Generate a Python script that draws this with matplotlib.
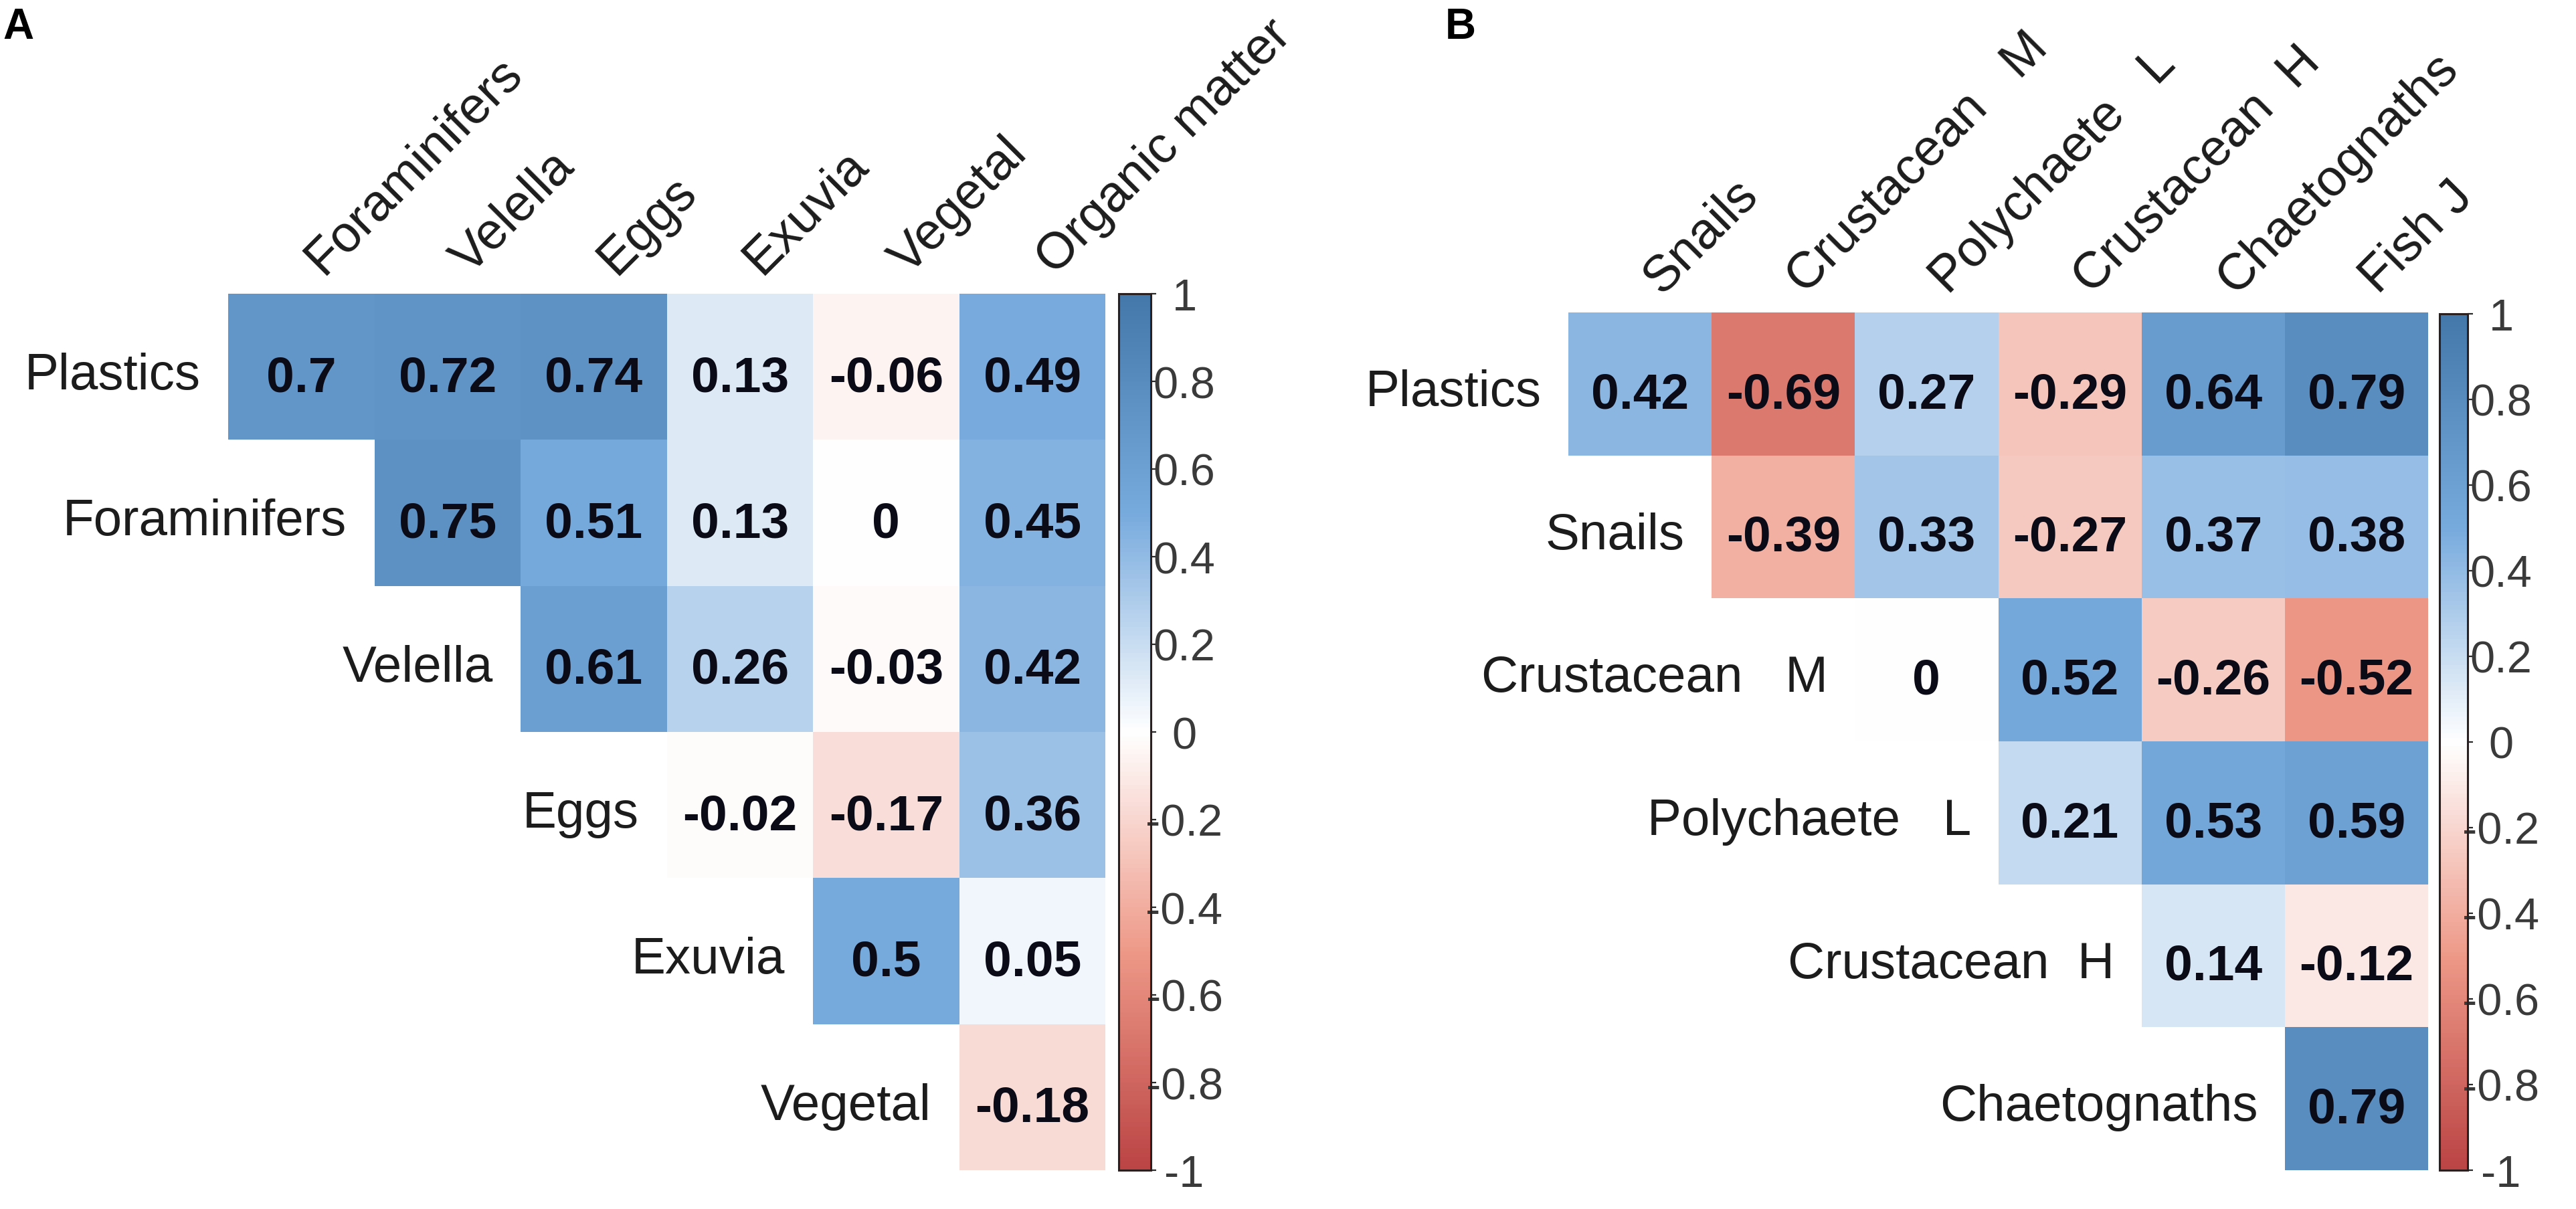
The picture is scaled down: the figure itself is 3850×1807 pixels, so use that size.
"""
Two upper-triangle correlation maps (corrplot style): A = particle types, B = plankton groups.
"""

import numpy as np
import matplotlib
matplotlib.use("Agg")
import matplotlib.pyplot as plt
from matplotlib.colors import LinearSegmentedColormap, Normalize
from matplotlib.cm import ScalarMappable

# --- data -------------------------------------------------------------------
A_ROWS = ["Plastics", "Foraminifers", "Velella", "Eggs", "Exuvia", "Vegetal"]
A_COLS = ["Foraminifers", "Velella", "Eggs", "Exuvia", "Vegetal", "Organic matter"]
A_VALUES = [
    [0.7, 0.72, 0.74, 0.13, -0.06, 0.49],
    [None, 0.75, 0.51, 0.13, 0, 0.45],
    [None, None, 0.61, 0.26, -0.03, 0.42],
    [None, None, None, -0.02, -0.17, 0.36],
    [None, None, None, None, 0.5, 0.05],
    [None, None, None, None, None, -0.18],
]

B_ROWS = ["Plastics", "Snails", "Crustacean   M", "Polychaete   L", "Crustacean  H", "Chaetognaths"]
B_COLS = ["Snails", "Crustacean   M", "Polychaete   L", "Crustacean  H", "Chaetognaths", "Fish J"]
B_VALUES = [
    [0.42, -0.69, 0.27, -0.29, 0.64, 0.79],
    [None, -0.39, 0.33, -0.27, 0.37, 0.38],
    [None, None, 0, 0.52, -0.26, -0.52],
    [None, None, None, 0.21, 0.53, 0.59],
    [None, None, None, None, 0.14, -0.12],
    [None, None, None, None, None, 0.79],
]

CBAR_TICKS = [-1, -0.8, -0.6, -0.4, -0.2, 0, 0.2, 0.4, 0.6, 0.8, 1]
CBAR_LABELS = ["-1", "-0.8", "-0.6", "-0.4", "-0.2", "0", "0.2", "0.4", "0.6", "0.8", "1"]

PALETTE = ["#BB4444", "#EE9988", "#FFFFFF", "#77AADD", "#4477AA"]

# --- layout (pixels of the 3850 x 1808 canvas) ---------------------------------
W, H = 3850, 1808
FONT = ["Liberation Sans", "DejaVu Sans"]


def px_rect(left, top, width, height):
    return [left / W, 1 - (top + height) / H, width / W, height / H]


def fmt(v):
    s = f"{v:.2f}".rstrip("0").rstrip(".")
    return "0" if s in ("-0", "") else s


def draw_corr(fig, rect, cbar_rect, rows, cols, values, cmap, norm):
    ax = fig.add_axes(px_rect(*rect))
    mat = np.array([[np.nan if v is None else v for v in r] for r in values], dtype=float)
    ax.pcolormesh(np.arange(len(cols) + 1), np.arange(len(rows) + 1),
                  np.ma.masked_invalid(mat), cmap=cmap, norm=norm)
    ax.set_xlim(0, len(cols))
    ax.set_ylim(len(rows), 0)
    ax.axis("off")

    for i, row in enumerate(values):
        for j, v in enumerate(row):
            if v is None:
                continue
            ax.text(j + 0.5, i + 0.5 + 0.165, fmt(v), ha="center", va="baseline",
                    fontsize=54, fontweight="bold", color="#0b0b18", family=FONT)

    for i, name in enumerate(rows):
        ax.text(i - 0.19, i + 0.5 + 0.15, name, ha="right", va="baseline",
                fontsize=55, color="#1c1c1c", family=FONT, clip_on=False)

    for j, name in enumerate(cols):
        ax.text(j + 0.5 + 0.15, -0.125, name, ha="left", va="baseline",
                rotation=45, rotation_mode="anchor",
                fontsize=55, color="#1c1c1c", family=FONT, clip_on=False)

    cax = fig.add_axes(px_rect(*cbar_rect))
    sm = ScalarMappable(norm=norm, cmap=cmap)
    cb = fig.colorbar(sm, cax=cax, ticks=CBAR_TICKS)
    cb.set_ticklabels(CBAR_LABELS)
    cb.outline.set_linewidth(2.2)
    cb.outline.set_edgecolor("#2a2020")
    cax.tick_params(axis="y", length=6, width=1.6, color="#2a2a2a", pad=30,
                    labelsize=48, labelcolor="#3a3a3a")
    for t in cax.get_yticklabels():
        t.set_horizontalalignment("center")
        t.set_family(FONT)
    return ax


def main():
    cmap = LinearSegmentedColormap.from_list("corr", PALETTE, N=200)
    norm = Normalize(vmin=-1, vmax=1)

    fig = plt.figure(figsize=(W / 100, H / 100), dpi=100)
    fig.patch.set_facecolor("white")

    draw_corr(fig, (341, 440, 1311, 1310), (1672, 440, 48, 1310),
              A_ROWS, A_COLS, A_VALUES, cmap, norm)
    draw_corr(fig, (2344, 468, 1285, 1282), (3646, 470, 42, 1280),
              B_ROWS, B_COLS, B_VALUES, cmap, norm)

    fig.text(4 / W, 1 - 58 / H, "A", fontsize=46, fontweight="bold",
             family=["Liberation Sans Narrow", "Liberation Sans", "DejaVu Sans"], color="black")
    fig.text(2160 / W, 1 - 58 / H, "B", fontsize=46, fontweight="bold",
             family=["Liberation Sans Narrow", "Liberation Sans", "DejaVu Sans"], color="black")

    fig.savefig("out.png", dpi=100, facecolor="white")
    plt.close(fig)


if __name__ == "__main__":
    main()
